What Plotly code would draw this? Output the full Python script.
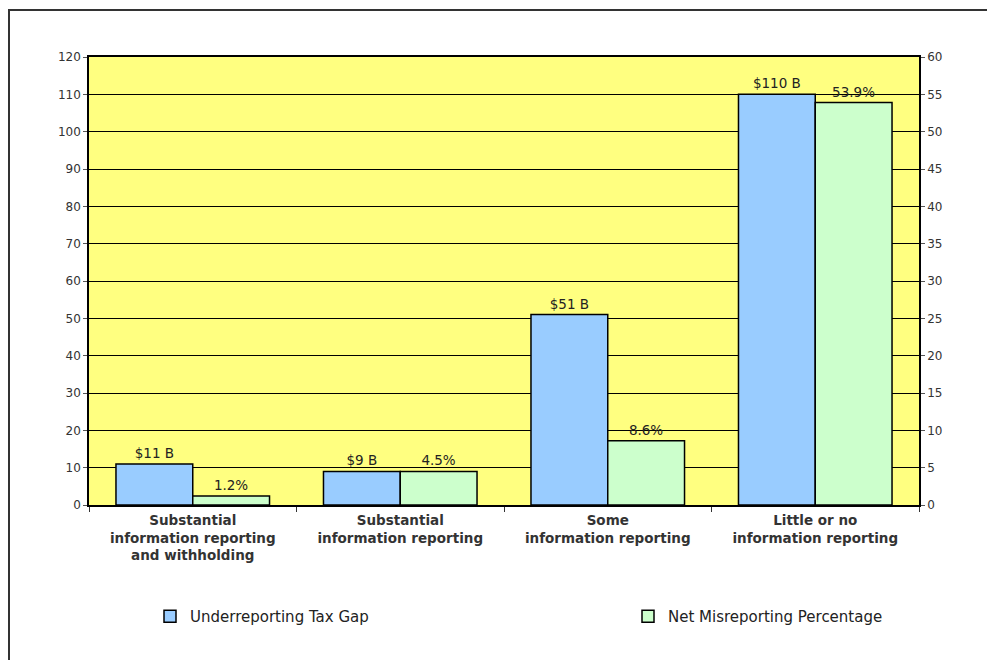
import plotly.graph_objects as go

categories = [
    "<b>Substantial<br>information reporting<br>and withholding</b>",
    "<b>Substantial<br>information reporting</b>",
    "<b>Some<br>information reporting</b>",
    "<b>Little or no<br>information reporting</b>",
]
tax_gap = [11, 9, 51, 110]
tax_gap_labels = ["$11 B", "$9 B", "$51 B", "$110 B"]
misreport_pct = [1.2, 4.5, 8.6, 53.9]
misreport_labels = ["1.2%", "4.5%", "8.6%", "53.9%"]
left_ticks = list(range(0, 121, 10))
right_ticks = list(range(0, 61, 5))

W, H = 987, 660
ML, MR, MT, MB = 89, 68, 57, 155
pw, ph = W - ML - MR, H - MT - MB
FONT = "DejaVu Sans"

fig = go.Figure()
fig.add_trace(go.Bar(
    x=categories, y=tax_gap, name="Underreporting Tax Gap",
    marker=dict(color="#99CCFF", line=dict(color="black", width=1.5)),
    text=tax_gap_labels, textposition="outside", cliponaxis=False,
    textfont=dict(family=FONT, size=13.5, color="#222"),
    offsetgroup="a", yaxis="y", legend="legend",
))
fig.add_trace(go.Bar(
    x=categories, y=misreport_pct, name="Net Misreporting Percentage",
    marker=dict(color="#CCFFCC", line=dict(color="black", width=1.5)),
    text=misreport_labels, textposition="outside", cliponaxis=False,
    textfont=dict(family=FONT, size=13.5, color="#222"),
    offsetgroup="b", yaxis="y2", legend="legend2",
))

leg_common = dict(
    orientation="h", xanchor="left", yanchor="top",
    y=(MT + ph - 600) / ph,
    font=dict(family=FONT, size=15, color="#222"),
    bgcolor="rgba(0,0,0,0)", itemwidth=30,
)

fig.update_layout(
    template="none",
    width=W, height=H,
    margin=dict(l=ML, r=MR, t=MT, b=MB),
    paper_bgcolor="white", plot_bgcolor="#FFFF80",
    barmode="group", bargap=0.26, bargroupgap=0,
    font=dict(family=FONT, size=12, color="#333"),
    xaxis=dict(
        type="category", tickson="boundaries", ticks="outside", ticklen=5,
        tickcolor="#333", showline=True, linecolor="black", linewidth=1.5,
        mirror=True, showgrid=False, ticklabelstandoff=2,
        tickfont=dict(family=FONT, size=13.5, color="#333"),
    ),
    yaxis=dict(
        range=[0, 120], tickvals=left_ticks, ticks="outside", ticklen=4,
        tickcolor="#555", showline=True, linecolor="black", linewidth=1.5,
        showgrid=True, gridcolor="black", gridwidth=1, zeroline=False,
        tickfont=dict(family=FONT, size=12, color="#333"),
    ),
    yaxis2=dict(
        range=[0, 60], tickvals=right_ticks, overlaying="y", side="right",
        ticks="outside", ticklen=4, tickcolor="#555", showline=True,
        linecolor="black", linewidth=1.5, showgrid=False, zeroline=False,
        tickfont=dict(family=FONT, size=12, color="#333"),
    ),
    legend=dict(leg_common, x=(150 - ML) / pw),
    legend2=dict(leg_common, x=(628 - ML) / pw),
    showlegend=True,
    shapes=[dict(
        type="rect", xref="paper", yref="paper",
        x0=(9 - ML) / pw, x1=1.2, y0=-0.6, y1=1 + (MT - 10) / ph,
        line=dict(color="#333", width=2), fillcolor="rgba(0,0,0,0)",
        layer="below",
    )],
)

fig.write_html("out.html")
